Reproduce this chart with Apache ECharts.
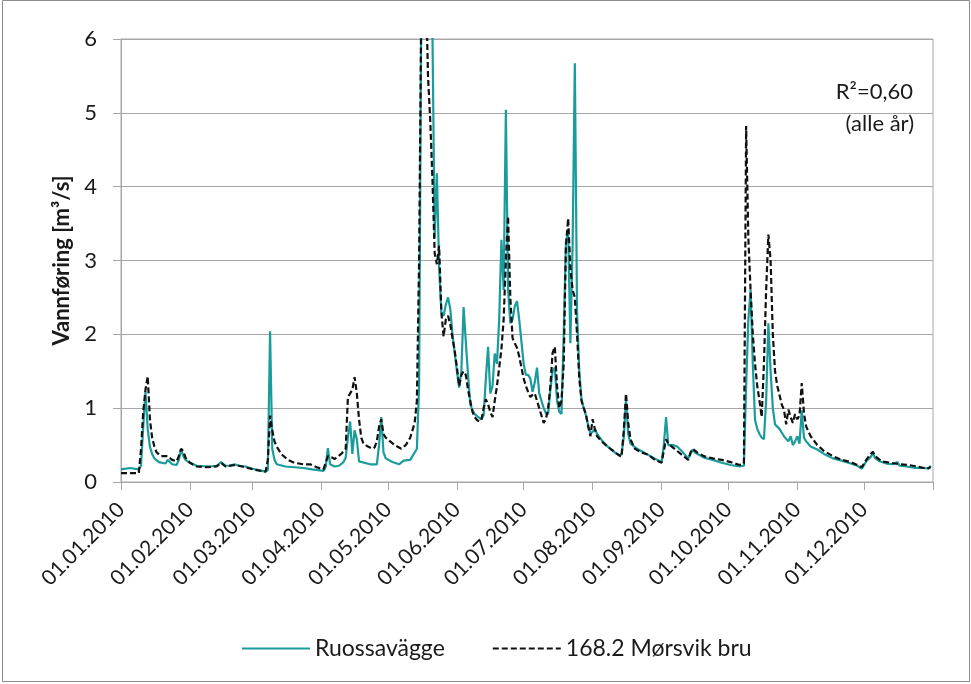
<!DOCTYPE html>
<html>
<head>
<meta charset="utf-8">
<script src="https://cdn.jsdelivr.net/npm/echarts@6/dist/echarts.min.js"></script>
<style>
html,body{margin:0;padding:0;background:#fff;}
#chart{width:971px;height:684px;}
</style>
</head>
<body>
<div id="chart"></div>
<script>
// Day index 0 = 01.01.2010, 365 = 01.01.2011
const seriesNames = ['Ruossavägge', '168.2 Mørsvik bru'];
const yTicks = [0, 1, 2, 3, 4, 5, 6];

const ruoDays = [0,4,8,9,10,11,12,13,14,15,17,20,21,23,25,26,27,28,29,31,34,40,43,45,47,49,51,53,56,59,62,65,66,67,68,69,70,74,82,86,91,92,93,94,96,98,100,101,102,103,104,105,106,107,112,115,116,117,118,119,122,125,127,130,132,133,134,135,136,137,138,139,140,141,142,143,144,145,146,147,148,149,150,151,152,153,154,155,156,157,158,159,161,162,163,164,165,166,167,168,169,170,171,172,173,174,175,176,177,178,179,180,181,182,183,184,185,186,187,188,189,190,191,192,193,194,195,196,197,198,199,200,201,202,203,204,205,206,207,208,209,210,211,212,213,214,216,218,222,224,225,226,227,228,229,232,235,238,241,243,244,245,246,248,250,252,255,256,257,258,262,266,270,274,278,280,281,282,283,284,285,286,287,288,289,290,291,292,293,294,295,296,298,300,301,302,303,304,305,306,307,308,310,313,316,320,324,328,331,333,335,337,338,339,341,344,347,349,350,353,357,361,363,364];
const ruoVals = [0.17,0.19,0.17,0.22,0.75,1.22,0.72,0.48,0.38,0.32,0.27,0.25,0.30,0.24,0.23,0.30,0.44,0.35,0.30,0.26,0.22,0.21,0.22,0.27,0.22,0.22,0.24,0.22,0.21,0.18,0.16,0.14,0.16,2.04,0.45,0.30,0.24,0.21,0.19,0.17,0.15,0.20,0.46,0.24,0.21,0.22,0.27,0.33,0.60,0.82,0.38,0.70,0.58,0.28,0.24,0.24,0.50,0.88,0.40,0.32,0.27,0.24,0.29,0.30,0.40,0.45,1.30,6.6,8.2,7.4,7.0,6.6,6.1,3.3,4.18,2.9,2.3,2.25,2.4,2.5,2.35,2.0,1.75,1.5,1.28,1.5,2.37,1.9,1.45,1.05,0.97,0.92,0.87,0.85,0.9,1.4,1.83,1.2,1.3,1.74,1.6,2.2,3.28,2.6,5.04,2.6,2.15,2.2,2.38,2.45,2.2,1.9,1.6,1.45,1.45,1.4,1.22,1.35,1.55,1.2,1.1,1.0,0.93,0.92,1.25,1.5,1.55,1.1,0.95,0.92,2.0,3.25,3.4,1.88,3.2,5.67,2.3,1.5,1.12,1.0,0.9,0.77,0.66,0.68,0.72,0.65,0.57,0.5,0.4,0.36,0.38,0.6,1.11,0.65,0.52,0.45,0.4,0.35,0.3,0.27,0.5,0.88,0.5,0.5,0.48,0.42,0.32,0.38,0.44,0.4,0.33,0.3,0.26,0.23,0.21,0.22,1.3,2.2,2.6,1.6,0.84,0.72,0.65,0.6,0.58,1.1,2.15,1.5,1.0,0.78,0.75,0.72,0.62,0.55,0.62,0.5,0.55,0.62,0.52,0.97,0.6,0.55,0.48,0.44,0.38,0.32,0.29,0.25,0.22,0.18,0.28,0.34,0.39,0.32,0.28,0.25,0.24,0.27,0.22,0.21,0.19,0.19,0.18,0.22];

const morDays = [0,8,9,10,11,12,13,14,15,16,18,21,23,25,26,27,28,29,31,34,38,43,45,47,51,53,57,61,65,66,67,68,69,70,72,75,78,82,85,88,91,93,95,96,99,101,102,103,104,105,106,107,108,109,111,113,114,115,116,117,118,119,121,123,126,128,130,131,132,133,134,135,136,137,138,139,140,141,142,143,144,145,146,147,148,149,150,151,152,153,154,155,156,157,158,159,160,161,162,163,164,165,166,167,168,169,170,171,172,173,174,175,176,177,178,179,180,181,182,183,184,185,186,187,188,189,190,191,192,193,194,195,196,197,198,199,200,201,202,203,204,205,206,207,208,209,210,211,212,213,214,216,218,220,223,225,226,227,228,229,231,234,237,240,243,245,246,248,250,252,255,256,257,259,262,266,270,274,278,280,281,282,283,284,285,286,287,288,289,290,291,292,293,294,295,296,297,298,299,300,301,302,303,304,305,306,307,308,310,313,316,320,324,328,331,333,335,337,338,339,342,346,350,354,358,362,364];
const morVals = [0.12,0.12,0.45,0.95,1.25,1.43,0.85,0.6,0.48,0.4,0.35,0.35,0.3,0.28,0.35,0.45,0.42,0.33,0.26,0.21,0.2,0.21,0.26,0.21,0.23,0.22,0.19,0.16,0.14,0.3,0.9,0.7,0.55,0.48,0.38,0.3,0.26,0.24,0.24,0.2,0.17,0.35,0.33,0.31,0.38,0.45,1.15,1.2,1.25,1.42,1.2,0.85,0.6,0.52,0.48,0.45,0.47,0.55,0.75,0.85,0.65,0.6,0.55,0.5,0.45,0.5,0.6,0.7,0.8,1.1,3.0,6.5,8.0,6.8,5.5,4.9,4.1,3.1,2.95,3.2,2.3,1.97,2.2,2.25,2.14,1.95,1.78,1.55,1.3,1.45,1.5,1.45,1.25,1.1,0.95,0.88,0.84,0.82,0.84,1.0,1.12,1.05,0.95,0.88,1.1,1.3,1.55,1.8,2.2,3.0,3.6,2.5,1.95,1.88,1.82,1.7,1.55,1.4,1.3,1.22,1.15,1.18,1.2,1.1,1.0,0.9,0.8,0.85,1.0,1.3,1.75,1.83,1.3,1.0,1.1,1.6,3.2,3.57,2.9,2.6,2.5,2.0,1.4,1.1,1.0,0.92,0.75,0.62,0.85,0.72,0.62,0.55,0.5,0.45,0.38,0.34,0.7,1.2,0.8,0.58,0.45,0.4,0.37,0.3,0.26,0.58,0.52,0.47,0.42,0.37,0.3,0.4,0.45,0.4,0.35,0.32,0.3,0.27,0.23,0.25,4.82,3.3,2.6,2.0,1.6,1.3,1.1,0.88,1.6,2.6,3.35,3.0,2.0,1.5,1.3,1.18,1.05,0.98,0.78,0.98,0.88,0.8,0.92,0.85,0.9,1.34,0.93,0.75,0.62,0.5,0.42,0.35,0.3,0.27,0.23,0.2,0.3,0.38,0.41,0.35,0.28,0.26,0.24,0.23,0.21,0.18,0.2];

// Category labels: one per day, 01.01.2010 .. 01.01.2011
const dateLabels = [];
for (let i = 0; i <= 365; i++) {
  const d = new Date(Date.UTC(2010, 0, 1 + i));
  const dd = String(d.getUTCDate()).padStart(2, '0');
  const mm = String(d.getUTCMonth() + 1).padStart(2, '0');
  dateLabels.push(dd + '.' + mm + '.' + d.getUTCFullYear());
}

const chart = echarts.init(document.getElementById('chart'), null, {renderer: 'canvas'});
const font = 'Lato, "Open Sans", sans-serif';
const grey = '#a6a6a6';
const option = {
  animation: false,
  backgroundColor: '#ffffff',
  grid: {left: 121, right: 38, top: 39, bottom: 202, show: true, borderColor: grey, borderWidth: 1, containLabel: false},
  legend: {
    data: seriesNames,
    left: 236, top: 632,
    itemWidth: 68, itemHeight: 14, itemGap: 47,
    itemStyle: {opacity: 0},
    textStyle: {fontFamily: font, fontSize: 23, color: '#1a1a1a'}
  },
  xAxis: {
    type: 'category', data: dateLabels, boundaryGap: false,
    axisLine: {lineStyle: {color: grey, width: 1}},
    axisTick: {show: true, length: 8, interval: (i, v) => v.slice(0, 2) === '01', lineStyle: {color: grey}},
    axisLabel: {
      interval: (i, v) => v.slice(0, 2) === '01' && v.slice(-4) === '2010',
      rotate: 45, margin: 24, fontFamily: font, fontSize: 21, color: '#1a1a1a'
    },
    splitLine: {show: false}
  },
  yAxis: {
    type: 'value', min: yTicks[0], max: yTicks[yTicks.length - 1], interval: 1,
    name: 'Vannføring [m³/s]', nameLocation: 'middle', nameGap: 48,
    nameTextStyle: {fontFamily: font, fontSize: 22, fontWeight: 'bold', color: '#1a1a1a'},
    axisLine: {show: true, lineStyle: {color: grey}},
    axisTick: {show: true, length: 8, lineStyle: {color: grey}},
    axisLabel: {margin: 24, fontFamily: font, fontSize: 22, color: '#1a1a1a'},
    splitLine: {lineStyle: {color: grey, width: 1}}
  },
  graphic: [
    {type: 'rect', shape: {x: 2.5, y: 0.5, width: 967, height: 681}, style: {fill: 'none', stroke: '#8c8c8c', lineWidth: 1}, silent: true},
    {type: 'text', right: 58, top: 81, style: {text: 'R²=0,60', font: '22px ' + font, fill: '#1a1a1a'}},
    {type: 'text', right: 57, top: 113, style: {text: '(alle år)', font: '22px ' + font, fill: '#1a1a1a'}}
  ],
  series: [
    {
      name: seriesNames[0], type: 'line', symbol: 'none', clip: true,
      lineStyle: {color: '#1a9c9c', width: 2.2},
      itemStyle: {color: '#1a9c9c'},
      data: ruoDays.map((d, i) => [d, ruoVals[i]])
    },
    {
      name: seriesNames[1], type: 'line', symbol: 'none', clip: true,
      lineStyle: {color: '#111111', width: 2.2, type: [6, 3]},
      itemStyle: {color: '#111111'},
      data: morDays.map((d, i) => [d, morVals[i]])
    }
  ]
};
chart.setOption(option);
</script>
</body>
</html>
